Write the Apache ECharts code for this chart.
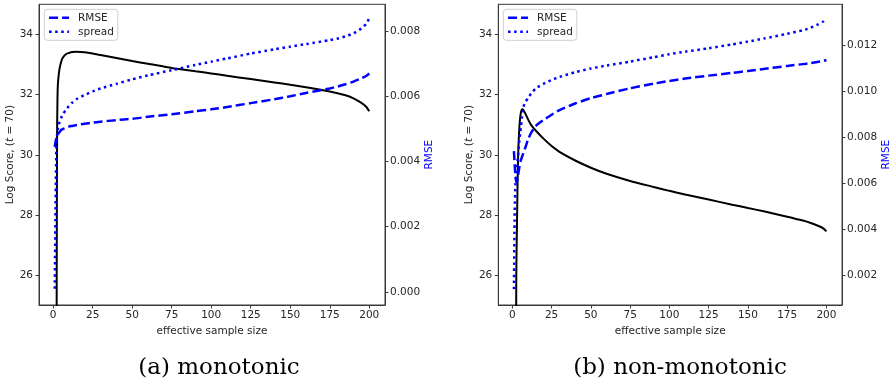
<!DOCTYPE html>
<html>
<head>
<meta charset="utf-8">
<script src="https://cdn.jsdelivr.net/npm/echarts@6/dist/echarts.min.js"></script>
<style>
html,body{margin:0;padding:0;background:#fff;}
#chart{width:893px;height:386px;}
</style>
</head>
<body>
<div id="chart"></div>
<script>
// ---- Data ----
const xA = [1, 1.5, 2, 2.25, 2.5, 2.75, 3, 3.5, 4, 5, 6, 8, 10, 12, 15, 20, 25, 30, 40, 50, 60, 75, 90, 100, 110, 125, 140, 150, 160, 175, 180, 185, 190, 195, 198, 200];
const logScoreA = [0, 5, 15, 26, 30.8, 31.9, 32.35, 32.65, 32.85, 33.08, 33.22, 33.35, 33.39, 33.42, 33.43, 33.41, 33.37, 33.32, 33.22, 33.12, 33.03, 32.89, 32.78, 32.71, 32.63, 32.52, 32.41, 32.33, 32.25, 32.11, 32.05, 31.98, 31.88, 31.73, 31.6, 31.45];
const rmseA = [0.00445, 0.0046, 0.0047, 0.00474, 0.00477, 0.0048, 0.00483, 0.00487, 0.0049, 0.00496, 0.00499, 0.00503, 0.00507, 0.00509, 0.00512, 0.00516, 0.00519, 0.00522, 0.00527, 0.00531, 0.00537, 0.00545, 0.00554, 0.0056, 0.00567, 0.00579, 0.00591, 0.006, 0.0061, 0.00624, 0.0063, 0.00637, 0.00645, 0.00655, 0.00662, 0.0067];
const spreadA = [0.0001, 0.0025, 0.0044, 0.0046, 0.0048, 0.0049, 0.005, 0.00512, 0.0052, 0.00533, 0.00543, 0.00558, 0.0057, 0.0058, 0.00592, 0.00604, 0.00615, 0.00624, 0.00638, 0.00652, 0.00664, 0.0068, 0.00696, 0.00706, 0.00716, 0.00731, 0.00744, 0.00752, 0.0076, 0.00772, 0.00777, 0.00784, 0.00793, 0.00808, 0.00822, 0.00839];

const xB = [1, 1.5, 2, 2.5, 3, 3.5, 4, 4.5, 5, 5.5, 6, 6.5, 7, 8, 10, 12, 15, 20, 25, 30, 40, 50, 60, 75, 90, 100, 110, 125, 140, 150, 160, 175, 185, 190, 195, 198, 200];
const logScoreB = [0, 5, 16, 26, 27.9, 29.6, 30.45, 30.95, 31.25, 31.42, 31.5, 31.52, 31.49, 31.4, 31.18, 30.99, 30.8, 30.53, 30.29, 30.1, 29.81, 29.57, 29.37, 29.13, 28.93, 28.8, 28.68, 28.51, 28.34, 28.23, 28.12, 27.94, 27.81, 27.73, 27.63, 27.55, 27.45];
const rmseB = [0.0074, 0.0068, 0.0063, 0.00605, 0.0061, 0.0063, 0.0065, 0.00672, 0.0069, 0.00702, 0.00712, 0.00722, 0.00732, 0.0075, 0.0079, 0.0082, 0.0085, 0.00876, 0.00898, 0.00918, 0.00947, 0.0097, 0.00988, 0.01013, 0.01033, 0.01045, 0.01055, 0.01068, 0.0108, 0.01088, 0.01097, 0.0111, 0.01118, 0.01122, 0.01128, 0.01132, 0.01136];
const spreadB = [0.0014, 0.0048, 0.006, 0.0063, 0.0067, 0.0071, 0.0075, 0.0079, 0.0082, 0.0085, 0.0088, 0.0091, 0.0093, 0.0095, 0.0097, 0.0099, 0.01013, 0.01033, 0.01049, 0.01062, 0.01083, 0.01099, 0.01112, 0.01129, 0.01148, 0.01161, 0.01172, 0.01187, 0.01204, 0.01216, 0.01229, 0.0125, 0.01265, 0.01276, 0.01292, 0.01303, 0.01317];

const xTicks = [0, 25, 50, 75, 100, 125, 150, 175, 200];
const leftTicks = [26, 28, 30, 32, 34];
const rightTicksA = [0, 0.002, 0.004, 0.006, 0.008];
const rightTicksB = [0.002, 0.004, 0.006, 0.008, 0.010, 0.012];
const seriesNames = ['RMSE', 'spread'];
const captions = ['(a) monotonic', '(b) non-monotonic'];
const xTitle = 'effective sample size';

// ---- Build ----
const zip = (xs, ys) => xs.map((x, i) => [x, ys[i]]);
const FONT = 'DejaVu Sans';
const AX = '#3a3a3a';
const LBL = '#262626';
const grids = [
  {left: 39, top: 4.3, width: 346, height: 300.7},
  {left: 498.3, top: 4.3, width: 346, height: 300.7}
];

function xAxisFor(i) {
  return {
    type: 'value', gridIndex: i, min: -8.95, max: 209.95,
    name: xTitle, nameLocation: 'middle', nameGap: 15,
    nameTextStyle: {fontFamily: FONT, fontSize: 10.5, color: LBL},
    axisLine: {show: true, onZero: false, lineStyle: {color: AX, width: 1}},
    axisTick: {show: true, length: 3.5, inside: false, customValues: xTicks, lineStyle: {color: AX}},
    axisLabel: {show: true, customValues: xTicks, margin: 5, fontFamily: FONT, fontSize: 10.5, color: LBL},
    splitLine: {show: false}
  };
}
function leftY(i) {
  return {
    type: 'value', gridIndex: i, position: 'left', min: 25, max: 35.01,
    name: 'Log Score, ({it|t} = 70)', nameLocation: 'middle', nameGap: 22, nameRotate: 90,
    nameTextStyle: {fontFamily: FONT, fontSize: 10.5, color: LBL,
      rich: {it: {fontStyle: 'italic', fontFamily: FONT, fontSize: 10.5, color: LBL}}},
    axisLine: {show: true, onZero: false, lineStyle: {color: AX, width: 1}},
    axisTick: {show: true, length: 3.5, customValues: leftTicks, lineStyle: {color: AX}},
    axisLabel: {show: true, customValues: leftTicks, margin: 6, fontFamily: FONT, fontSize: 10.5, color: LBL},
    splitLine: {show: false}
  };
}
function rightY(i, min, max, ticks) {
  return {
    type: 'value', gridIndex: i, position: 'right', min: min, max: max,
    name: 'RMSE', nameLocation: 'middle', nameGap: 37, nameRotate: 90,
    nameTextStyle: {fontFamily: FONT, fontSize: 10.5, color: '#0000ff'},
    axisLine: {show: true, onZero: false, lineStyle: {color: AX, width: 1}},
    axisTick: {show: true, length: 3.5, customValues: ticks, lineStyle: {color: AX}},
    axisLabel: {show: true, customValues: ticks, margin: 5, fontFamily: FONT, fontSize: 10.5, color: LBL,
      formatter: v => Number(v).toFixed(3)},
    splitLine: {show: false}
  };
}
function lines(gi, xs, ls, rm, sp) {
  const common = {showSymbol: false, symbol: 'none', clip: true, smooth: 0.2};
  return [
    Object.assign({type: 'line', name: 'Log Score', xAxisIndex: gi, yAxisIndex: gi * 2, data: zip(xs, ls), z: 2,
     lineStyle: {color: '#000', width: 2}, itemStyle: {color: '#000'}}, common),
    Object.assign({type: 'line', name: seriesNames[0], xAxisIndex: gi, yAxisIndex: gi * 2 + 1, data: zip(xs, rm), z: 3,
     lineStyle: {color: '#0000ff', width: 2.5, type: [9, 4]}, itemStyle: {color: '#0000ff'}}, common),
    Object.assign({type: 'line', name: seriesNames[1], xAxisIndex: gi, yAxisIndex: gi * 2 + 1, data: zip(xs, sp), z: 3,
     lineStyle: {color: '#0000ff', width: 2.5, type: [2.5, 3.6]}, itemStyle: {color: '#0000ff'}}, common)
  ];
}
function legendAt(left) {
  return {
    data: seriesNames, orient: 'vertical', left: left, top: 9.3,
    itemWidth: 20, itemHeight: 12, itemGap: 3, padding: [3, 4, 3, 3.5],
    backgroundColor: '#fff', borderColor: '#d0d0d0', borderWidth: 1, borderRadius: 3,
    selectedMode: false,
    itemStyle: {opacity: 0, borderWidth: 0},
    lineStyle: {width: 2.5},
    textStyle: {fontFamily: FONT, fontSize: 10.5, color: LBL, padding: [0, 0, 0, 4]}
  };
}

const option = {
  backgroundColor: '#fff',
  animation: false,
  grid: grids.map(g => Object.assign({show: true, borderColor: AX, borderWidth: 1, backgroundColor: '#fff', containLabel: false}, g)),
  xAxis: [xAxisFor(0), xAxisFor(1)],
  yAxis: [leftY(0), rightY(0, -0.0004, 0.00882, rightTicksA), leftY(1), rightY(1, 0.00071, 0.01378, rightTicksB)],
  legend: [legendAt(44.3), legendAt(503.3)],
  series: [].concat(lines(0, xA, logScoreA, rmseA, spreadA), lines(1, xB, logScoreB, rmseB, spreadB)),
  graphic: [
    {type: 'text', style: {text: captions[0], x: 219, y: 368, fontFamily: 'DejaVu Serif', fontSize: 23, fill: '#000', textAlign: 'center', textVerticalAlign: 'middle'}},
    {type: 'text', style: {text: captions[1], x: 680, y: 368, fontFamily: 'DejaVu Serif', fontSize: 23, fill: '#000', textAlign: 'center', textVerticalAlign: 'middle'}}
  ]
};
const chart = echarts.init(document.getElementById('chart'), null, {renderer: 'canvas'});
chart.setOption(option);
</script>
</body>
</html>
